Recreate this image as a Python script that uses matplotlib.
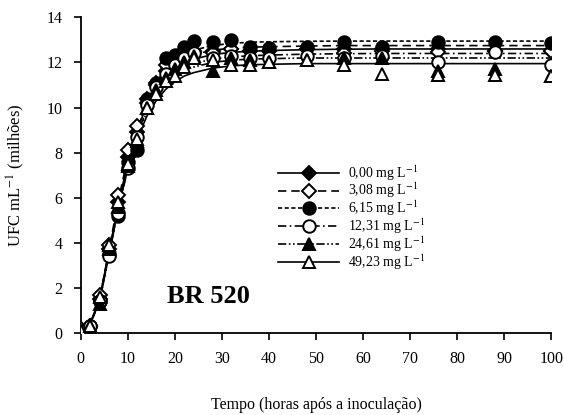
import matplotlib
matplotlib.use("Agg")
import matplotlib.pyplot as plt

plt.rcParams['font.family'] = ['Liberation Serif', 'DejaVu Serif']
plt.rcParams['mathtext.fontset'] = 'stix'

# tempo (horas)
t = [0, 2, 4, 6, 8, 10, 12, 14, 16, 18, 20, 22, 24, 28, 32, 36, 40, 48, 56, 64, 76, 88, 100]

labels = ['0,00', '3,08', '6,15', '12,31', '24,61', '49,23']

# observed counts (milhoes UFC/mL)
obs_000 = [0.15, 0.3, 1.5, 3.7, 5.8, 7.8, 8.9, 10.2, 11.0, 11.6, 12.0, 12.3, 12.4, 12.5, 12.6, 12.5, 12.5, 12.6, 12.6, 12.6, 12.6, 12.5, 12.5]
obs_308 = [0.15, 0.3, 1.7, 3.9, 6.1, 8.1, 9.2, 10.4, 11.1, 11.9, 12.0, 12.4, 12.5, 12.4, 12.6, 12.5, 12.5, 12.6, 12.4, 12.5, 12.45, 12.5, 12.5]
obs_615 = [0.1, 0.3, 1.4, 3.5, 5.2, 7.6, 8.1, 10.4, 11.1, 12.2, 12.35, 12.7, 12.95, 12.9, 13.0, 12.7, 12.65, 12.7, 12.9, 12.7, 12.9, 12.9, 12.85]
obs_1231 = [0.1, 0.3, 1.4, 3.4, 5.3, 7.3, 8.7, 10.1, 10.9, 11.5, 11.9, 12.2, 12.4, 12.2, 12.3, 12.2, 12.2, 12.3, 12.2, 12.3, 12.0, 12.45, 11.9]
obs_2461 = [0.1, 0.3, 1.3, 3.7, 5.6, 7.4, 8.5, 10.0, 10.8, 11.3, 11.7, 12.0, 12.3, 11.6, 12.2, 12.1, 12.0, 12.1, 12.2, 12.2, 11.6, 11.7, 11.4]
obs_4923 = [0.1, 0.3, 1.6, 3.9, 5.8, 7.5, 8.6, 10.0, 10.6, 11.2, 11.4, 11.8, 12.2, 12.1, 11.9, 11.9, 12.0, 12.1, 11.9, 11.5, 11.45, 11.45, 11.4]

# fitted curves
fit_000 = [0.1, 0.4, 1.5, 3.6, 5.7, 7.6, 9.0, 10.1, 10.9, 11.4, 11.75, 12.0, 12.15, 12.35, 12.45, 12.5, 12.53, 12.57, 12.59, 12.6, 12.6, 12.6, 12.6]
fit_308 = [0.1, 0.4, 1.5, 3.7, 5.9, 7.8, 9.2, 10.3, 11.1, 11.6, 11.95, 12.2, 12.35, 12.55, 12.63, 12.68, 12.7, 12.73, 12.75, 12.75, 12.75, 12.75, 12.75]
fit_615 = [0.1, 0.4, 1.4, 3.5, 5.6, 7.5, 9.0, 10.2, 11.1, 11.7, 12.1, 12.4, 12.55, 12.75, 12.85, 12.9, 12.92, 12.94, 12.95, 12.95, 12.95, 12.95, 12.95]
fit_1231 = [0.1, 0.4, 1.4, 3.5, 5.5, 7.4, 8.8, 9.9, 10.7, 11.2, 11.55, 11.8, 11.95, 12.15, 12.25, 12.3, 12.33, 12.37, 12.39, 12.4, 12.4, 12.4, 12.4]
fit_2461 = [0.1, 0.4, 1.4, 3.5, 5.5, 7.3, 8.7, 9.8, 10.6, 11.1, 11.4, 11.65, 11.8, 12.0, 12.1, 12.15, 12.17, 12.2, 12.2, 12.2, 12.2, 12.2, 12.2]
fit_4923 = [0.1, 0.4, 1.5, 3.6, 5.6, 7.3, 8.6, 9.6, 10.3, 10.8, 11.15, 11.4, 11.55, 11.75, 11.85, 11.9, 11.92, 11.95, 11.95, 11.95, 11.95, 11.95, 11.95]

obs = [obs_000, obs_308, obs_615, obs_1231, obs_2461, obs_4923]
fits = [fit_000, fit_308, fit_615, fit_1231, fit_2461, fit_4923]
markers = ['D', 'D', 'o', 'o', '^', '^']
faces = ['black', 'white', 'black', 'white', 'black', 'white']
sizes = [7, 7, 9, 9, 8.5, 8.5]
styles = ['-', (0, (5, 3)), (0, (2.5, 1.5)), (0, (5, 2, 1, 2)), (0, (5, 1.5, 1, 1.5, 1, 1.5)), '-']

fig = plt.figure(figsize=(5.65, 4.15), dpi=100)
ax = fig.add_axes([0.143, 0.198, 0.833, 0.76])

handles = []
for i in range(6):
    ax.plot(t, fits[i], color='black', linestyle=styles[i], linewidth=1.2, zorder=2)
    ax.plot(t, obs[i], linestyle='none', marker=markers[i], markersize=sizes[i],
            markerfacecolor=faces[i], markeredgecolor='black', markeredgewidth=1.4, zorder=3)
    h, = ax.plot([], [], color='black', linestyle=styles[i], linewidth=1.2,
                 marker=markers[i], markersize=sizes[i], markerfacecolor=faces[i],
                 markeredgecolor='black', markeredgewidth=1.4)
    handles.append(h)

ax.set_xlim(0, 100)
ax.set_ylim(0, 14)
ax.set_xticks(range(0, 101, 10))
ax.set_yticks(range(0, 15, 2))
ax.spines['top'].set_visible(False)
ax.spines['right'].set_visible(False)
ax.spines['left'].set_linewidth(1.3)
ax.spines['bottom'].set_linewidth(1.3)
ax.tick_params(direction='out', length=5, width=1.2, labelsize=11.5, pad=8)

ax.set_xlabel('Tempo (horas após a inoculação)', fontsize=11.5, labelpad=22)
ax.set_ylabel('UFC mL$^{-1}$ (milhões)', fontsize=12, labelpad=14)

ax.text(18.3, 1.6, 'BR 520', fontsize=19, fontweight='bold', va='center', ha='left')

ax.legend(handles, [l + ' mg L$^{-1}$' for l in labels], loc='upper left',
          bbox_to_anchor=(0.405, 0.56), frameon=False, fontsize=10,
          handlelength=4.4, handletextpad=0.6, labelspacing=-0.12, borderpad=0)

fig.savefig('out.png', dpi=100)
